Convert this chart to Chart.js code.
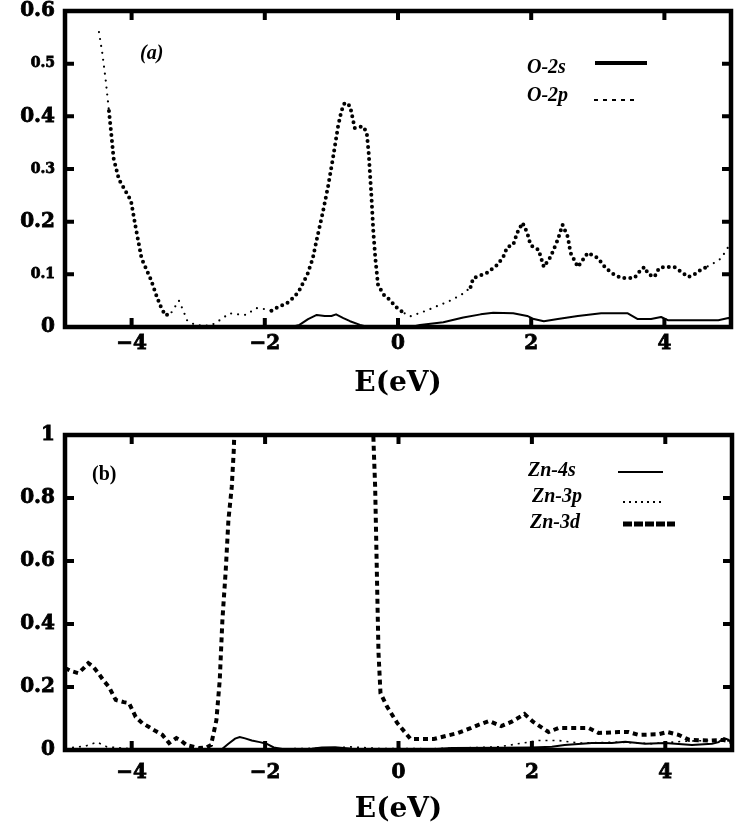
<!DOCTYPE html>
<html>
<head>
<meta charset="utf-8">
<script src="https://cdn.jsdelivr.net/npm/chart.js@4.4.0/dist/chart.umd.min.js"></script>
<style>
  html, body { margin: 0; padding: 0; background: #fff; width: 750px; height: 828px; overflow: hidden; }
  canvas { position: absolute; left: 0; }
  #dosA { top: 0; }
  #dosB { top: 418px; }
</style>
</head>
<body>
<canvas id="dosA" width="750" height="403"></canvas>
<canvas id="dosB" width="750" height="410"></canvas>
<script>
// ---- axis ticks ----
const energyTicks = [-4, -2, 0, 2, 4];
const dosTicksA = [0, 0.1, 0.2, 0.3, 0.4, 0.5, 0.6];
const dosTicksB = [0, 0.2, 0.4, 0.6, 0.8, 1];
const minorLabelsA = [0.1, 0.3, 0.5];

// ---- (a) oxygen partial DOS ----
const o2sEnergy = [-5.0, -1.6, -1.48, -1.35, -1.22, -1.10, -1.00, -0.93, -0.82, -0.72, -0.57, -0.45, 0.20, 0.33, 0.68, 0.98, 1.24, 1.43, 1.73, 1.94, 2.04, 2.19, 2.40, 2.70, 3.05, 3.45, 3.60, 3.80, 3.95, 4.05, 4.81, 4.96, 5.0];
const o2sDos    = [0, 0, 0.004, 0.015, 0.023, 0.021, 0.021, 0.024, 0.017, 0.011, 0.004, 0, 0, 0.004, 0.009, 0.018, 0.024, 0.027, 0.026, 0.021, 0.015, 0.011, 0.015, 0.021, 0.026, 0.026, 0.015, 0.015, 0.019, 0.013, 0.013, 0.017, 0.016];

const o2pEnergy = [-4.49, -4.44, -4.39, -4.34, -4.30, -4.27, -4.19, -4.10, -4.01, -3.94, -3.85, -3.78, -3.71, -3.62, -3.55, -3.49, -3.40, -3.29, -3.22, -3.17, -3.05, -2.90, -2.79, -2.65, -2.53, -2.40, -2.28, -2.13, -2.00, -1.90, -1.83, -1.67, -1.55, -1.48, -1.36, -1.28, -1.22, -1.13, -1.05, -0.98, -0.90, -0.85, -0.80, -0.72, -0.65, -0.58, -0.53, -0.47, -0.44, -0.40, -0.37, -0.34, -0.30, -0.22, -0.12, -0.03, 0.03, 0.10, 0.18, 0.38, 0.50, 0.63, 0.75, 0.89, 1.00, 1.09, 1.13, 1.22, 1.34, 1.49, 1.58, 1.64, 1.73, 1.79, 1.87, 1.94, 1.99, 2.05, 2.11, 2.19, 2.29, 2.40, 2.47, 2.55, 2.59, 2.70, 2.85, 3.00, 3.10, 3.20, 3.35, 3.55, 3.65, 3.70, 3.76, 3.85, 3.92, 4.00, 4.15, 4.25, 4.36, 4.45, 4.55, 4.65, 4.75, 4.85, 4.96];
const o2pDos    = [0.56, 0.52, 0.47, 0.41, 0.36, 0.32, 0.28, 0.26, 0.24, 0.19, 0.13, 0.11, 0.09, 0.057, 0.035, 0.022, 0.028, 0.05, 0.03, 0.013, 0.004, 0.002, 0.004, 0.015, 0.026, 0.024, 0.023, 0.036, 0.034, 0.031, 0.036, 0.045, 0.058, 0.07, 0.10, 0.13, 0.166, 0.217, 0.267, 0.318, 0.381, 0.41, 0.426, 0.42, 0.378, 0.38, 0.381, 0.37, 0.33, 0.25, 0.18, 0.13, 0.08, 0.062, 0.051, 0.038, 0.032, 0.026, 0.020, 0.029, 0.035, 0.042, 0.048, 0.057, 0.065, 0.076, 0.093, 0.097, 0.103, 0.118, 0.133, 0.152, 0.156, 0.179, 0.198, 0.179, 0.156, 0.150, 0.147, 0.114, 0.133, 0.166, 0.194, 0.171, 0.141, 0.114, 0.141, 0.131, 0.115, 0.103, 0.093, 0.093, 0.109, 0.114, 0.100, 0.095, 0.112, 0.114, 0.114, 0.105, 0.095, 0.100, 0.109, 0.115, 0.122, 0.130, 0.152];

// ---- (b) zinc partial DOS ----
const zn4sEnergy = [-5.0, -4.0, -3.0, -2.7, -2.64, -2.55, -2.45, -2.38, -2.30, -2.20, -2.08, -1.98, -1.87, -1.70, -1.30, -1.15, -0.95, -0.70, -0.30, 0.40, 0.80, 1.50, 2.00, 2.30, 2.49, 2.90, 3.20, 3.40, 3.70, 4.00, 4.40, 4.70, 4.80, 4.88, 4.95, 5.0];
const zn4sDos    = [0.003, 0.002, 0.002, 0.003, 0.004, 0.02, 0.036, 0.041, 0.037, 0.03, 0.025, 0.02, 0.008, 0.002, 0.004, 0.008, 0.009, 0.004, 0.002, 0.001, 0.006, 0.007, 0.008, 0.01, 0.016, 0.022, 0.022, 0.026, 0.02, 0.022, 0.016, 0.02, 0.025, 0.038, 0.032, 0.02];

const zn3pEnergy = [-5.0, -4.7, -4.52, -4.37, -4.0, -3.0, -2.0, -1.0, -0.72, -0.3, 0.5, 1.5, 2.1, 2.4, 2.7, 3.3, 3.8, 4.3, 4.6, 4.9, 5.0];
const zn3pDos    = [0.006, 0.012, 0.025, 0.01, 0.004, 0.002, 0.003, 0.006, 0.01, 0.005, 0.004, 0.01, 0.03, 0.03, 0.022, 0.025, 0.02, 0.028, 0.03, 0.03, 0.028];

const zn3dEnergy = [-5.0, -4.9, -4.8, -4.72, -4.65, -4.58, -4.5, -4.42, -4.34, -4.24, -4.12, -4.04, -3.94, -3.84, -3.74, -3.64, -3.54, -3.44, -3.33, -3.25, -3.18, -2.99, -2.88, -2.81, -2.73, -2.68, -2.64, -2.59, -2.55, -2.50, -2.47, -2.44, -2.40, -2.30, -1.40, -0.50, -0.40, -0.37, -0.35, -0.32, -0.30, -0.27, -0.17, -0.02, 0.18, 0.53, 0.89, 1.09, 1.19, 1.36, 1.54, 1.69, 1.89, 2.02, 2.25, 2.40, 2.70, 2.85, 3.00, 3.30, 3.45, 3.60, 3.90, 4.03, 4.20, 4.36, 4.66, 4.86, 5.0];
const zn3dDos    = [0.26, 0.25, 0.244, 0.26, 0.276, 0.265, 0.244, 0.22, 0.20, 0.159, 0.152, 0.149, 0.105, 0.085, 0.073, 0.06, 0.048, 0.022, 0.038, 0.028, 0.016, 0.006, 0.008, 0.016, 0.095, 0.222, 0.413, 0.571, 0.73, 0.835, 0.95, 1.15, 1.5, 2.0, 2.6, 1.6, 1.15, 0.95, 0.835, 0.517, 0.31, 0.18, 0.137, 0.086, 0.035, 0.035, 0.054, 0.07, 0.079, 0.092, 0.076, 0.089, 0.114, 0.089, 0.057, 0.07, 0.07, 0.07, 0.054, 0.057, 0.057, 0.048, 0.05, 0.057, 0.048, 0.032, 0.03, 0.032, 0.025];

const toPoints = (xs, ys) => xs.map((x, i) => ({ x, y: ys[i] }));

// O-2p is drawn with lighter dots where the density is sparse
const o2pFineRanges = [[-5, -4.38], [-3.45, -1.95], [0.05, 1.05], [4.6, 5]];
const inFine = x => o2pFineRanges.some(([a, b]) => x >= a && x < b);

const SERIF = 'DejaVu Serif';
const LEGEND_FONT = 'italic bold 20px "Liberation Serif"';

// box frame with inward ticks on all four sides
const framePlugin = {
  id: 'frame',
  afterDatasetsDraw(chart, args, opts) {
    const { ctx, chartArea: a, scales: { x, y } } = chart;
    ctx.save();
    ctx.strokeStyle = '#000';
    ctx.lineCap = 'butt';
    ctx.lineWidth = opts.tickWidth;
    ctx.beginPath();
    x.ticks.forEach(t => {
      const px = x.getPixelForValue(t.value);
      if (px <= a.left + 2 || px >= a.right - 2) return;
      ctx.moveTo(px, a.bottom); ctx.lineTo(px, a.bottom - opts.tickLen);
      ctx.moveTo(px, a.top); ctx.lineTo(px, a.top + opts.tickLen);
    });
    y.ticks.forEach(t => {
      const py = y.getPixelForValue(t.value);
      if (py <= a.top + 2 || py >= a.bottom - 2) return;
      ctx.moveTo(a.left, py); ctx.lineTo(a.left + opts.tickLen, py);
      ctx.moveTo(a.right, py); ctx.lineTo(a.right - opts.tickLen, py);
    });
    ctx.stroke();
    ctx.lineWidth = opts.borderWidth;
    ctx.strokeRect(a.left, a.top, a.right - a.left, a.bottom - a.top);
    ctx.restore();
  }
};

// panel tag and line-sample key
const notesPlugin = {
  id: 'notes',
  afterDraw(chart, args, opts) {
    const ctx = chart.ctx;
    ctx.save();
    ctx.fillStyle = '#000';
    ctx.strokeStyle = '#000';
    ctx.textBaseline = 'middle';
    ctx.textAlign = 'left';
    (opts.texts || []).forEach(t => {
      ctx.font = t.font;
      ctx.fillText(t.text, t.x, t.y);
    });
    (opts.keys || []).forEach(k => {
      const ds = chart.data.datasets[k.dataset];
      ctx.font = LEGEND_FONT;
      ctx.fillText(ds.label, k.tx, k.ty);
      ctx.beginPath();
      ctx.lineWidth = k.width;
      ctx.lineCap = k.cap || 'butt';
      ctx.setLineDash(k.dash || []);
      ctx.moveTo(k.x1, k.ly);
      ctx.lineTo(k.x2, k.ly);
      ctx.stroke();
      ctx.setLineDash([]);
    });
    ctx.restore();
  }
};

function energyAxis(axisHeight, tickPad, titlePad) {
  return {
    type: 'linear',
    min: -5,
    max: 5,
    afterBuildTicks: s => { s.ticks = energyTicks.map(v => ({ value: v })); },
    afterFit: s => { s.height = axisHeight; },
    grid: { display: false, drawTicks: false },
    border: { display: false },
    ticks: {
      padding: tickPad,
      autoSkip: false,
      maxRotation: 0,
      color: '#000',
      textStrokeColor: '#000',
      textStrokeWidth: 0.8,
      font: { family: SERIF, weight: 'bold', size: 20 },
      callback: v => (v < 0 ? '\u2212' + Math.abs(v) : String(v))
    },
    title: {
      display: true,
      text: 'E(eV)',
      color: '#000',
      font: { family: SERIF, weight: 'bold', size: 28 },
      padding: titlePad
    }
  };
}

function dosAxis(max, tickList, minor) {
  return {
    type: 'linear',
    min: 0,
    max: max,
    afterBuildTicks: s => { s.ticks = tickList.map(v => ({ value: v })); },
    afterFit: s => { s.width = 65; s.paddingTop = 0; s.paddingBottom = 0; },
    grid: { display: false, drawTicks: false },
    border: { display: false },
    ticks: {
      padding: 10,
      color: '#000',
      textStrokeColor: '#000',
      textStrokeWidth: 0.8,
      font: c => ({ family: SERIF, weight: 'bold',
        size: (c.tick && minor.some(m => Math.abs(m - c.tick.value) < 1e-9)) ? 14 : 20 }),
      callback: v => String(v)
    }
  };
}

const common = {
  responsive: false,
  animation: false,
  events: [],
  elements: { point: { radius: 0 }, line: { tension: 0, fill: false, borderColor: '#000' } }
};

new Chart(document.getElementById('dosA'), {
  type: 'line',
  data: {
    datasets: [
      { label: 'O-2s', data: toPoints(o2sEnergy, o2sDos), borderColor: '#000', borderWidth: 2, borderJoinStyle: 'round' },
      { label: 'O-2p', data: toPoints(o2pEnergy, o2pDos), borderColor: '#000', borderWidth: 4,
        borderCapStyle: 'round', borderDash: [0, 6],
        segment: {
          borderWidth: c => (inFine(c.p0.parsed.x) ? 2.2 : 4),
          borderDash: c => (inFine(c.p0.parsed.x) ? [0, 7] : [0, 6])
        } }
    ]
  },
  options: {
    ...common,
    layout: { padding: { top: 11, right: 19, bottom: 0, left: 0 } },
    scales: { x: energyAxis(76, 5, { top: 5, bottom: 2 }), y: dosAxis(0.6, dosTicksA, minorLabelsA) },
    plugins: {
      legend: { display: false },
      tooltip: { enabled: false },
      frame: { borderWidth: 4.5, tickWidth: 4, tickLen: 9 },
      notes: {
        texts: [{ text: '(a)', x: 140, y: 54, font: 'italic bold 20px "Liberation Serif"' }],
        keys: [
          { dataset: 0, tx: 527, ty: 68, x1: 595, x2: 647, ly: 63, width: 4 },
          { dataset: 1, tx: 527, ty: 96, x1: 594, x2: 638, ly: 100, width: 1.8, dash: [4, 5] }
        ]
      }
    }
  },
  plugins: [framePlugin, notesPlugin]
});

new Chart(document.getElementById('dosB'), {
  type: 'line',
  data: {
    datasets: [
      { label: 'Zn-4s', data: toPoints(zn4sEnergy, zn4sDos), borderColor: '#000', borderWidth: 2 },
      { label: 'Zn-3p', data: toPoints(zn3pEnergy, zn3pDos), borderColor: '#000', borderWidth: 1.6, borderDash: [2, 5] },
      { label: 'Zn-3d', data: toPoints(zn3dEnergy, zn3dDos), borderColor: '#000', borderWidth: 4, borderDash: [5, 4] }
    ]
  },
  options: {
    ...common,
    layout: { padding: { top: 17, right: 18, bottom: 0, left: 0 } },
    scales: { x: energyAxis(78, 11, { top: 0, bottom: 1 }), y: dosAxis(1, dosTicksB, []) },
    plugins: {
      legend: { display: false },
      tooltip: { enabled: false },
      frame: { borderWidth: 4.5, tickWidth: 4, tickLen: 9 },
      notes: {
        texts: [{ text: '(b)', x: 92, y: 57, font: 'bold 20px "Liberation Serif"' }],
        keys: [
          { dataset: 0, tx: 528, ty: 53, x1: 618, x2: 663, ly: 54, width: 2 },
          { dataset: 1, tx: 532, ty: 79, x1: 623, x2: 665, ly: 84, width: 1.8, dash: [2, 4] },
          { dataset: 2, tx: 530, ty: 105, x1: 623, x2: 675, ly: 106, width: 5, dash: [9, 2] }
        ]
      }
    }
  },
  plugins: [framePlugin, notesPlugin]
});
</script>
</body>
</html>
